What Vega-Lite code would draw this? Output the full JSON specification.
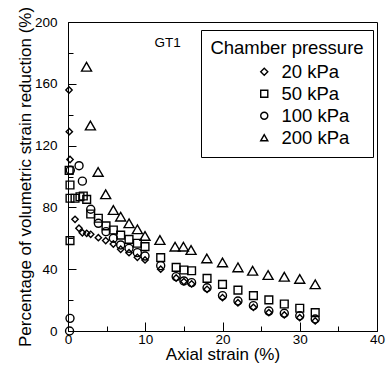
{
  "$schema": "https://vega.github.io/schema/vega-lite/v6.json",
  "width": 309,
  "height": 309,
  "autosize": "none",
  "padding": {"left": 68, "top": 22, "right": 9, "bottom": 45},
  "background": "white",
  "config": {
    "font": "Liberation Sans",
    "view": {"stroke": "black", "strokeWidth": 1},
    "axis": {
      "domainColor": "black", "tickColor": "black", "labelColor": "black", "titleColor": "black",
      "grid": false, "labelFont": "Liberation Sans", "titleFont": "Liberation Sans",
      "labelFontSize": 13.5, "titleFontSize": 17, "titleFontWeight": "normal", "labelFlush": false, "labelOverlap": false
    },
    "legend": {
      "orient": "none", "legendX": 133, "legendY": 8,
      "strokeColor": "black", "fillColor": "white", "padding": 9,
      "titleFontSize": 18.5, "labelFontSize": 18.5, "titleFontWeight": "normal",
      "titleFont": "Liberation Sans", "labelFont": "Liberation Sans",
      "titleColor": "black", "labelColor": "black",
      "titleAnchor": "middle", "titlePadding": 5,
      "symbolSize": 50, "symbolStrokeWidth": 1.4, "symbolStrokeColor": "black",
      "symbolOffset": 30, "labelOffset": 8, "rowPadding": 3
    }
  },
  "datasets": {
    "pts": [
      {"s": "20 kPa", "x": 0.13, "y": 156},
      {"s": "20 kPa", "x": 0.17, "y": 129},
      {"s": "20 kPa", "x": 0.26, "y": 111},
      {"s": "20 kPa", "x": 0.91, "y": 72.3},
      {"s": "20 kPa", "x": 1.42, "y": 66.5},
      {"s": "20 kPa", "x": 1.86, "y": 63.6},
      {"s": "20 kPa", "x": 2.42, "y": 63.2},
      {"s": "20 kPa", "x": 2.94, "y": 62.6},
      {"s": "20 kPa", "x": 3.93, "y": 60.4},
      {"s": "20 kPa", "x": 4.88, "y": 58.5},
      {"s": "20 kPa", "x": 5.87, "y": 56.3},
      {"s": "20 kPa", "x": 6.82, "y": 52.9},
      {"s": "20 kPa", "x": 7.9, "y": 50.7},
      {"s": "20 kPa", "x": 8.98, "y": 47.7},
      {"s": "20 kPa", "x": 9.97, "y": 46},
      {"s": "20 kPa", "x": 12, "y": 40},
      {"s": "20 kPa", "x": 14, "y": 34.3},
      {"s": "20 kPa", "x": 15, "y": 32},
      {"s": "20 kPa", "x": 16, "y": 30.5},
      {"s": "20 kPa", "x": 18, "y": 27},
      {"s": "20 kPa", "x": 20, "y": 21.6},
      {"s": "20 kPa", "x": 22, "y": 18.3},
      {"s": "20 kPa", "x": 24, "y": 15.3},
      {"s": "20 kPa", "x": 26, "y": 11.9},
      {"s": "20 kPa", "x": 28, "y": 10.4},
      {"s": "20 kPa", "x": 30, "y": 8.6},
      {"s": "20 kPa", "x": 32, "y": 6.5},
      {"s": "50 kPa", "x": 0.26, "y": 58.5},
      {"s": "50 kPa", "x": 0.26, "y": 94.5},
      {"s": "50 kPa", "x": 0.15, "y": 104},
      {"s": "50 kPa", "x": 0.26, "y": 85.9},
      {"s": "50 kPa", "x": 0.91, "y": 85.9},
      {"s": "50 kPa", "x": 1.55, "y": 86.9},
      {"s": "50 kPa", "x": 1.98, "y": 87.4},
      {"s": "50 kPa", "x": 2.42, "y": 85.2},
      {"s": "50 kPa", "x": 2.94, "y": 75.7},
      {"s": "50 kPa", "x": 3.93, "y": 73},
      {"s": "50 kPa", "x": 4.92, "y": 68},
      {"s": "50 kPa", "x": 5.87, "y": 65.4},
      {"s": "50 kPa", "x": 6.82, "y": 62.1},
      {"s": "50 kPa", "x": 7.9, "y": 59.3},
      {"s": "50 kPa", "x": 8.98, "y": 56.8},
      {"s": "50 kPa", "x": 9.97, "y": 54.6},
      {"s": "50 kPa", "x": 12, "y": 47.5},
      {"s": "50 kPa", "x": 14, "y": 41.2},
      {"s": "50 kPa", "x": 15, "y": 39.5},
      {"s": "50 kPa", "x": 16, "y": 39},
      {"s": "50 kPa", "x": 18, "y": 34.1},
      {"s": "50 kPa", "x": 20, "y": 30.2},
      {"s": "50 kPa", "x": 22, "y": 26.5},
      {"s": "50 kPa", "x": 24, "y": 22.9},
      {"s": "50 kPa", "x": 26, "y": 20.1},
      {"s": "50 kPa", "x": 28, "y": 17.5},
      {"s": "50 kPa", "x": 30, "y": 14.7},
      {"s": "50 kPa", "x": 32, "y": 11.9},
      {"s": "100 kPa", "x": 0.2, "y": 0},
      {"s": "100 kPa", "x": 0.26, "y": 8.2},
      {"s": "100 kPa", "x": 0.3, "y": 104},
      {"s": "100 kPa", "x": 1.43, "y": 107},
      {"s": "100 kPa", "x": 1.86, "y": 97},
      {"s": "100 kPa", "x": 2.94, "y": 78.8},
      {"s": "100 kPa", "x": 3.93, "y": 69.7},
      {"s": "100 kPa", "x": 4.92, "y": 64.3},
      {"s": "100 kPa", "x": 5.87, "y": 60},
      {"s": "100 kPa", "x": 6.82, "y": 55.7},
      {"s": "100 kPa", "x": 7.9, "y": 53.5},
      {"s": "100 kPa", "x": 8.98, "y": 50.7},
      {"s": "100 kPa", "x": 9.97, "y": 48.5},
      {"s": "100 kPa", "x": 12, "y": 42.3},
      {"s": "100 kPa", "x": 14, "y": 35.2},
      {"s": "100 kPa", "x": 15, "y": 32.4},
      {"s": "100 kPa", "x": 16, "y": 31.3},
      {"s": "100 kPa", "x": 18, "y": 28},
      {"s": "100 kPa", "x": 20, "y": 22.9},
      {"s": "100 kPa", "x": 22, "y": 19.4},
      {"s": "100 kPa", "x": 24, "y": 16.4},
      {"s": "100 kPa", "x": 26, "y": 12.9},
      {"s": "100 kPa", "x": 28, "y": 11.5},
      {"s": "100 kPa", "x": 30, "y": 9.9},
      {"s": "100 kPa", "x": 32, "y": 7.8},
      {"s": "200 kPa", "x": 2.4, "y": 171},
      {"s": "200 kPa", "x": 2.9, "y": 133},
      {"s": "200 kPa", "x": 3.9, "y": 103},
      {"s": "200 kPa", "x": 4.88, "y": 88.5},
      {"s": "200 kPa", "x": 5.87, "y": 78.3},
      {"s": "200 kPa", "x": 6.82, "y": 74},
      {"s": "200 kPa", "x": 7.9, "y": 69.7},
      {"s": "200 kPa", "x": 8.98, "y": 65.8},
      {"s": "200 kPa", "x": 9.97, "y": 61.5},
      {"s": "200 kPa", "x": 11.9, "y": 58.9},
      {"s": "200 kPa", "x": 13.86, "y": 54.6},
      {"s": "200 kPa", "x": 14.94, "y": 54.6},
      {"s": "200 kPa", "x": 15.93, "y": 52.4},
      {"s": "200 kPa", "x": 17.97, "y": 47},
      {"s": "200 kPa", "x": 20, "y": 44.4},
      {"s": "200 kPa", "x": 22, "y": 41.2},
      {"s": "200 kPa", "x": 23.9, "y": 39},
      {"s": "200 kPa", "x": 25.9, "y": 36.2},
      {"s": "200 kPa", "x": 28, "y": 35.1},
      {"s": "200 kPa", "x": 30, "y": 33.7},
      {"s": "200 kPa", "x": 32, "y": 30.2}
    ],
    "labels": [
      {"x": 12.9, "y": 186.4, "label": "GT1"}
    ]
  },
  "encoding": {
    "x": {
      "field": "x", "type": "quantitative",
      "scale": {"domain": [0, 40], "nice": false, "zero": false},
      "axis": {
        "title": "Axial strain (%)",
        "values": [0, 5, 10, 15, 20, 25, 30, 35, 40],
        "tickSize": {"condition": {"test": "datum.value % 10 === 0", "value": -9}, "value": -5},
        "labelExpr": "datum.value % 10 === 0 ? datum.label : ''",
        "labelPadding": 10,
        "titlePadding": -3
      }
    },
    "y": {
      "field": "y", "type": "quantitative",
      "scale": {"domain": [0, 200], "nice": false},
      "axis": {
        "title": "Percentage of volumetric strain reduction (%)",
        "values": [0, 20, 40, 60, 80, 100, 120, 140, 160, 180, 200],
        "tickSize": {"condition": {"test": "datum.value % 40 === 0", "value": -8}, "value": -5},
        "labelExpr": "datum.value % 40 === 0 ? datum.label : ''",
        "labelPadding": 19,
        "titlePadding": 0
      }
    }
  },
  "layer": [
    {
      "data": {"name": "pts"},
      "transform": [{"filter": "datum.s === '20 kPa'"}],
      "mark": {"type": "point", "filled": false, "strokeWidth": 1.4, "color": "black", "opacity": 1, "size": 40},
      "encoding": {
        "shape": {"field": "s", "type": "nominal", "title": "Chamber pressure",
          "scale": {"domain": ["20 kPa", "50 kPa", "100 kPa", "200 kPa"], "range": ["diamond", "square", "circle", "triangle-up"]}}
      }
    },
    {
      "data": {"name": "pts"},
      "transform": [{"filter": "datum.s === '50 kPa'"}],
      "mark": {"type": "point", "filled": false, "strokeWidth": 1.4, "color": "black", "opacity": 1, "size": 60},
      "encoding": {
        "shape": {"field": "s", "type": "nominal", "title": "Chamber pressure",
          "scale": {"domain": ["20 kPa", "50 kPa", "100 kPa", "200 kPa"], "range": ["diamond", "square", "circle", "triangle-up"]}}
      }
    },
    {
      "data": {"name": "pts"},
      "transform": [{"filter": "datum.s === '100 kPa'"}],
      "mark": {"type": "point", "filled": false, "strokeWidth": 1.4, "color": "black", "opacity": 1, "size": 64},
      "encoding": {
        "shape": {"field": "s", "type": "nominal", "title": "Chamber pressure",
          "scale": {"domain": ["20 kPa", "50 kPa", "100 kPa", "200 kPa"], "range": ["diamond", "square", "circle", "triangle-up"]}}
      }
    },
    {
      "data": {"name": "pts"},
      "transform": [{"filter": "datum.s === '200 kPa'"}],
      "mark": {"type": "point", "filled": false, "strokeWidth": 1.4, "color": "black", "opacity": 1, "size": 100},
      "encoding": {
        "shape": {"field": "s", "type": "nominal", "title": "Chamber pressure",
          "scale": {"domain": ["20 kPa", "50 kPa", "100 kPa", "200 kPa"], "range": ["diamond", "square", "circle", "triangle-up"]}}
      }
    },
    {
      "data": {"name": "labels"},
      "mark": {"type": "text", "fontSize": 13.5, "font": "Liberation Sans", "color": "black", "align": "center", "baseline": "middle"},
      "encoding": {
        "text": {"field": "label"}
      }
    }
  ]
}
